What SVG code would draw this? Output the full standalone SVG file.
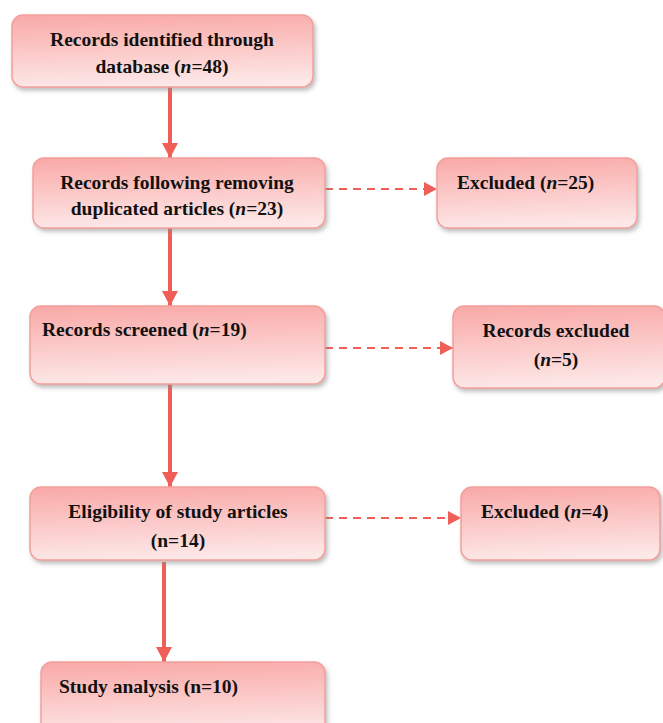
<svg xmlns="http://www.w3.org/2000/svg" width="663" height="723" viewBox="0 0 663 723">
<defs>
<linearGradient id="g" x1="0.2" y1="0" x2="0.3" y2="1">
<stop offset="0" stop-color="#f9aaa8"/>
<stop offset="1" stop-color="#fde8e8"/>
</linearGradient>
<filter id="sh" x="-5%" y="-10%" width="112%" height="130%">
<feDropShadow dx="2" dy="3" stdDeviation="2" flood-color="#888" flood-opacity="0.55"/>
</filter>
<marker id="ah" markerUnits="userSpaceOnUse" markerWidth="18" markerHeight="16" refX="15" refY="8" orient="auto">
<path d="M0,0 L15,8 L0,16 Z" fill="#ef5f58"/>
</marker>
<marker id="ahd" markerUnits="userSpaceOnUse" markerWidth="14" markerHeight="14" refX="13" refY="7" orient="auto">
<path d="M0,0 L13,7 L0,14 Z" fill="#ef5f58"/>
</marker>
</defs>
<style>
.box{fill:url(#g);stroke:#f3a09c;stroke-width:1.5;filter:url(#sh)}
.t{font-family:"Liberation Serif","Times New Roman",serif;font-weight:bold;font-size:19.5px;fill:#111}
.c{text-anchor:middle}
.solid{stroke:#ef5f58;stroke-width:4;fill:none;marker-end:url(#ah)}
.dash{stroke:#ef5f58;stroke-width:2;stroke-dasharray:8,6;fill:none;marker-end:url(#ahd)}
</style>
<rect width="663" height="723" fill="#fff"/>
<g id="connectors">
<line class="solid" x1="170" y1="87" x2="170" y2="158"/>
<line class="solid" x1="170" y1="228" x2="170" y2="306"/>
<line class="solid" x1="170" y1="384" x2="170" y2="487"/>
<line class="solid" x1="164" y1="562" x2="164" y2="662"/>
<line class="dash" x1="325" y1="189" x2="437" y2="189"/>
<line class="dash" x1="325" y1="348" x2="453" y2="348"/>
<line class="dash" x1="325" y1="518" x2="461" y2="518"/>
</g>
<g id="n1">
<rect class="box" x="12" y="15" width="301" height="72" rx="11"/>
<text class="t c" x="162" y="46">Records identified through</text>
<text class="t c" x="162" y="73">database (<tspan font-style="italic">n</tspan>=48)</text>
</g>
<g id="n2">
<rect class="box" x="33" y="158" width="292" height="70" rx="11"/>
<text class="t c" x="177" y="189">Records following removing</text>
<text class="t c" x="177" y="215">duplicated articles (<tspan font-style="italic">n</tspan>=23)</text>
</g>
<g id="n3">
<rect class="box" x="437" y="158" width="200" height="70" rx="11"/>
<text class="t" x="457" y="189">Excluded (<tspan font-style="italic">n</tspan>=25)</text>
</g>
<g id="n4">
<rect class="box" x="30" y="306" width="295" height="78" rx="11"/>
<text class="t" x="42" y="336">Records screened (<tspan font-style="italic">n</tspan>=19)</text>
</g>
<g id="n5">
<rect class="box" x="453" y="306" width="212" height="82" rx="11"/>
<text class="t c" x="556" y="337">Records excluded</text>
<text class="t c" x="556" y="366">(<tspan font-style="italic">n</tspan>=5)</text>
</g>
<g id="n6">
<rect class="box" x="30" y="487" width="295" height="73" rx="11"/>
<text class="t c" x="178" y="518">Eligibility of study articles</text>
<text class="t c" x="178" y="547">(n=14)</text>
</g>
<g id="n7">
<rect class="box" x="461" y="487" width="199" height="73" rx="11"/>
<text class="t" x="481" y="518">Excluded (<tspan font-style="italic">n</tspan>=4)</text>
</g>
<g id="n8">
<rect class="box" x="41" y="662" width="284" height="75" rx="11"/>
<text class="t" x="59" y="693">Study analysis (n=10)</text>
</g>
</svg>
